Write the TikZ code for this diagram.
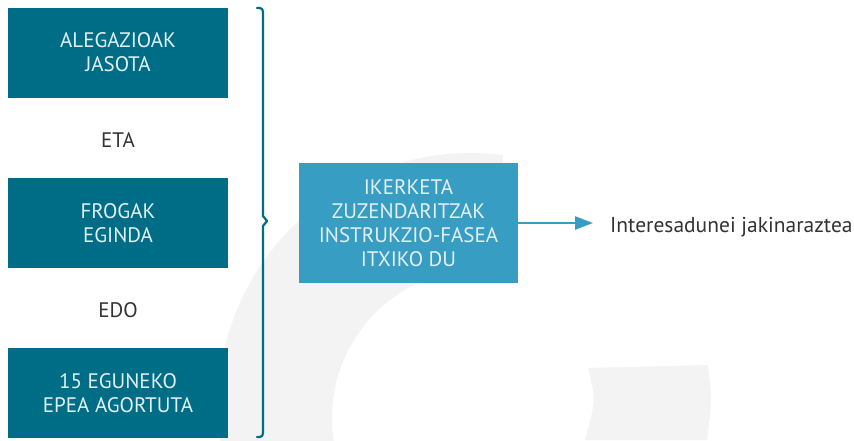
\documentclass[tikz,border=0pt]{standalone}
\usepackage{fontspec}
\setmainfont{PT Sans}
\usetikzlibrary{arrows.meta}
\definecolor{tealdark}{HTML}{006D87}
\definecolor{bluemid}{HTML}{389DC2}
\definecolor{wmgray}{HTML}{F3F3F3}
\definecolor{boxtxt}{HTML}{E2F1F5}
\definecolor{lbltxt}{HTML}{333333}
\begin{document}
\begin{tikzpicture}[x=1pt,y=-1pt,
  darkbox/.style={fill=tealdark, minimum width=220pt, minimum height=90pt, inner sep=0pt,
    text=boxtxt, align=center, font=\fontsize{21}{24}\selectfont},
  midbox/.style={fill=bluemid, minimum width=219pt, minimum height=120pt, inner sep=0pt,
    text=boxtxt, align=center, font=\fontsize{21}{24}\selectfont},
  plainlbl/.style={inner sep=0pt, text=lbltxt, font=\fontsize{21}{24}\selectfont},
  bracestyle/.style={draw=tealdark, line width=2.2pt, line join=round, line cap=round},
  arrowstyle/.style={draw=bluemid, line width=2.6pt, -{Triangle[length=18pt,width=13pt]}}]
\useasboundingbox (0,0) rectangle (854,440);
\fill[white] (0,0) rectangle (854,440);
% watermark
\begin{scope}
  \clip (0,0) rectangle (503,440);
  \fill[wmgray, even odd rule] (471,406) circle[radius=253pt] (481,418) circle[radius=149pt];
\end{scope}
\fill[wmgray] (588,368) -- (708,365) .. controls (712,400) .. (707,440) -- (585,440)
  .. controls (596,400) .. (588,368) -- cycle;
% left boxes
\node[darkbox] (b1) at (118,52.5) {ALEGAZIOAK\\JASOTA};
\node[plainlbl] (eta) at (118,140) {ETA};
\node[darkbox] (b2) at (118,223) {FROGAK\\EGINDA};
\node[plainlbl] (edo) at (118,310) {EDO};
\node[darkbox] (b3) at (118,393) {15 EGUNEKO\\EPEA AGORTUTA};
% brace
\coordinate (bt) at (257,8);
\coordinate (bb) at (257,437);
\draw[bracestyle] (bt) -- (260,8) to[out=0,in=90] (263,12) -- (263,216) -- (267,221)
  -- (263,226) -- (263,433) to[out=-90,in=0] (260,437) -- (bb);
% middle box
\node[midbox] (m) at (408.5,223) {IKERKETA\\ZUZENDARITZAK\\INSTRUKZIO-FASEA\\ITXIKO DU};
% target text
\node[plainlbl, anchor=base west, font=\fontsize{21.5}{24}\selectfont] (t) at (610,232) {Interesadunei jakinaraztea};
\draw[arrowstyle, shorten >=17pt] (m.east) -- (m.east -| t.west);
\end{tikzpicture}
\end{document}
